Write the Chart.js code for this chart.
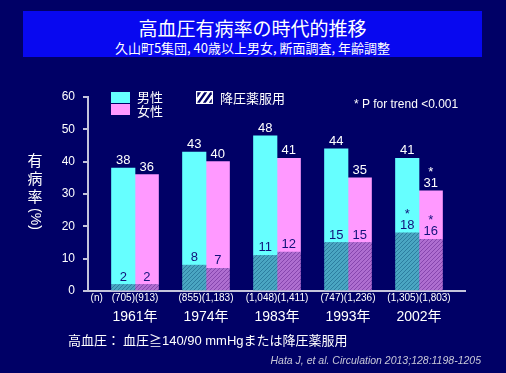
<!DOCTYPE html>
<html>
<head>
<meta charset="utf-8">
<script src="https://cdn.jsdelivr.net/npm/chart.js@4"></script>
<style>
  html, body { margin: 0; padding: 0; background: #000066; }
  #wrap { position: relative; width: 506px; height: 373px; overflow: hidden; }
  #chart { position: absolute; left: 0; top: 0; }
  #titlebox { position: absolute; left: 23px; top: 11px; width: 459px; height: 46px; background: #0808f0;
    color: #fff; text-align: center; font-family: "Noto Sans CJK JP", sans-serif; }
  #t1 { font-size: 19px; line-height: 20px; margin-top: 7px; }
  #t2 { font-size: 13px; line-height: 14px; margin-top: 3px; }
  .note { position: absolute; color: #fff; white-space: nowrap; }
</style>
</head>
<body>
<div id="wrap">
  <canvas id="chart" width="506" height="373"></canvas>
  <div id="titlebox">
    <div id="t1">高血圧有病率の時代的推移</div>
    <div id="t2">久山町5集団, 40歳以上男女, 断面調査, 年齢調整</div>
  </div>
  <div class="note" style="left:354px;top:97px;font:12px 'Liberation Sans',Arial;">* P for trend &lt;0.001</div>
  <div class="note" style="left:68px;top:330px;font:13px 'Noto Sans CJK JP';">高血圧： 血圧≧<span style="font-family:'Liberation Sans'">140/90 mmHg</span>または降圧薬服用</div>
  <div class="note" style="right:25px;top:354px;font:italic 10.5px 'Liberation Sans',Arial;color:#c8c8d8;">Hata J, et al. Circulation 2013;128:1198-1205</div>
</div>
<script>
// data
var years = ['1961年', '1974年', '1983年', '1993年', '2002年'];
var nLabels = ['(705)(913)', '(855)(1,183)', '(1,048)(1,411)', '(747)(1,236)', '(1,305)(1,803)'];
var maleTotal = [38, 43, 48, 44, 41];
var femaleTotal = [36, 40, 41, 35, 31];
var maleMed = [2, 8, 11, 15, 18];     // 降圧薬服用
var femaleMed = [2, 7, 12, 15, 16];
var maleTotalStar = [false, false, false, false, false];
var femaleTotalStar = [false, false, false, false, true];
var maleMedStar = [false, false, false, false, true];
var femaleMedStar = [false, false, false, false, true];
var yTicks = [0, 10, 20, 30, 40, 50, 60];

var axisColor = '#c4c4dc';
var xMin = -0.662, xMax = 4.648;

function hatch(base, line) {
  var c = document.createElement('canvas');
  c.width = 4; c.height = 4;
  var g = c.getContext('2d');
  g.fillStyle = base; g.fillRect(0, 0, 4, 4);
  g.fillStyle = line;
  for (var i = 0; i < 4; i++) g.fillRect(i, 3 - i, 1, 1);
  return g.createPattern(c, 'repeat');
}

var ctx = document.getElementById('chart').getContext('2d');
var maleHatch = hatch('#4aa6c2', '#2c7ea0');
var femaleHatch = hatch('#ae6ed0', '#8646ae');

var labelsPlugin = {
  id: 'labels',
  afterDatasetsDraw: function(chart) {
    var c = chart.ctx;
    c.save();
    c.textAlign = 'center';
    c.textBaseline = 'alphabetic';
    c.font = '13px "Liberation Sans", Arial';
    var sets = [
      { med: 0, rest: 1, total: maleTotal, medv: maleMed, ts: maleTotalStar, ms: maleMedStar },
      { med: 2, rest: 3, total: femaleTotal, medv: femaleMed, ts: femaleTotalStar, ms: femaleMedStar }
    ];
    sets.forEach(function(s) {
      var mMed = chart.getDatasetMeta(s.med), mRest = chart.getDatasetMeta(s.rest);
      for (var i = 0; i < years.length; i++) {
        var top = mRest.data[i], mid = mMed.data[i];
        c.fillStyle = '#ffffff';
        c.fillText(String(s.total[i]), top.x, top.y - 4);
        if (s.ts[i]) c.fillText('*', top.x, top.y - 15);
        c.fillStyle = '#12127a';
        c.fillText(String(s.medv[i]), mid.x, mid.y - 4);
        if (s.ms[i]) c.fillText('*', mid.x, mid.y - 15);
      }
    });
    c.restore();
  },
  afterDraw: function(chart) {
    var c = chart.ctx;
    c.save();
    // y axis title, written vertically
    c.fillStyle = '#ffffff';
    c.textAlign = 'center';
    c.textBaseline = 'middle';
    c.font = '15px "Noto Sans CJK JP"';
    ['有', '病', '率'].forEach(function(ch, k) { c.fillText(ch, 35, 160 + k * 18); });
    c.translate(35, 219);
    c.rotate(Math.PI / 2);
    c.font = '14px "Liberation Sans"';
    c.fillText('(%)', 0, 0);
    c.restore();

    // legend
    c.save();
    c.fillStyle = '#66ffff'; c.fillRect(111, 92, 19, 11);
    c.fillStyle = '#ff99ff'; c.fillRect(111, 104, 19, 11);
    c.fillStyle = '#ffffff';
    c.font = '13px "Noto Sans CJK JP"';
    c.textBaseline = 'middle';
    c.fillText('男性', 137, 97);
    c.fillText('女性', 137, 111);
    c.fillText('降圧薬服用', 220, 98);
    c.strokeStyle = '#ffffff'; c.lineWidth = 2.5;
    c.beginPath();
    c.rect(196, 91, 17, 13);
    c.clip();
    for (var k = 0; k < 4; k++) {
      c.moveTo(193 + k * 6, 106);
      c.lineTo(205 + k * 6, 89);
    }
    c.stroke();
    c.restore();
  }
};

var catIdx = years.map(function(_, i) { return i; });
function catTicks(scale) {
  scale.ticks = catIdx.map(function(i) { return { value: i }; });
}

new Chart(ctx, {
  type: 'bar',
  data: {
    labels: catIdx,
    datasets: [
      { label: '男性 降圧薬服用', stack: 'm', data: maleMed, backgroundColor: maleHatch },
      { label: '男性', stack: 'm', data: maleTotal.map(function(v, i) { return v - maleMed[i]; }), backgroundColor: '#66ffff' },
      { label: '女性 降圧薬服用', stack: 'f', data: femaleMed, backgroundColor: femaleHatch },
      { label: '女性', stack: 'f', data: femaleTotal.map(function(v, i) { return v - femaleMed[i]; }), backgroundColor: '#ff99ff' }
    ]
  },
  options: {
    responsive: false,
    animation: false,
    barThickness: 23.5,
    layout: { padding: { left: 0, top: 97, right: 41, bottom: 38 } },
    plugins: { legend: { display: false }, tooltip: { enabled: false } },
    scales: {
      x: {
        type: 'linear', min: xMin, max: xMax, offset: false, weight: 0,
        afterBuildTicks: function(s) {
          s.ticks = [{ value: -0.54 }].concat(catIdx.map(function(i) { return { value: i }; }));
        },
        ticks: {
          autoSkip: false, maxRotation: 0, padding: 1, color: '#ffffff',
          font: { family: '"Liberation Sans", Arial', size: 10 },
          callback: function(v) { return v < 0 ? '(n)' : nLabels[v]; }
        },
        grid: { display: false, drawTicks: false },
        border: { display: true, color: axisColor, width: 2 },
        afterFit: function(s) { s.height = 14; }
      },
      x2: {
        type: 'linear', position: 'bottom', min: xMin, max: xMax, offset: false, weight: 1,
        afterBuildTicks: catTicks,
        ticks: {
          autoSkip: false, maxRotation: 0, padding: 4, color: '#ffffff',
          font: { family: '"Liberation Sans", "Noto Sans CJK JP"', size: 14 },
          callback: function(v) { return years[v]; }
        },
        grid: { display: false, drawTicks: false },
        border: { display: false },
        afterFit: function(s) { s.height = 30; }
      },
      y: {
        min: 0, max: 60,
        afterBuildTicks: function(s) { s.ticks = yTicks.map(function(v) { return { value: v }; }); },
        ticks: { padding: 8, color: '#ffffff', font: { family: '"Liberation Sans", Arial', size: 12 } },
        grid: { drawOnChartArea: false, tickLength: 5, color: axisColor, lineWidth: 2 },
        border: { color: axisColor, width: 2 },
        afterFit: function(s) { s.width = 88; }
      }
    }
  },
  plugins: [labelsPlugin]
});
</script>
</body>
</html>
